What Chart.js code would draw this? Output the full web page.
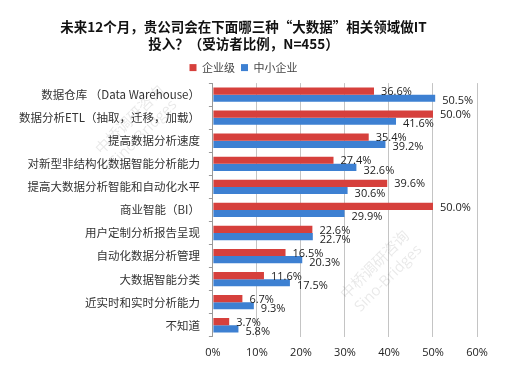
<!DOCTYPE html>
<html>
<head>
<meta charset="utf-8">
<script src="https://cdn.jsdelivr.net/npm/chart.js@4"></script>
<style>
  html, body { margin: 0; padding: 0; background: #fff; }
  #wrap { width: 529px; height: 376px; position: relative; }
</style>
</head>
<body>
<div id="wrap"><canvas id="chart"></canvas></div>
<script>
// категории и значения
const categories = [
    '数据仓库 （Data Warehouse）',
    '数据分析ETL（抽取，迁移，加载）',
    '提高数据分析速度',
    '对新型非结构化数据智能分析能力',
    '提高大数据分析智能和自动化水平',
    '商业智能（BI）',
    '用户定制分析报告呈现',
    '自动化数据分析管理',
    '大数据智能分类',
    '近实时和实时分析能力',
    '不知道'
];
const enterpriseValues = [36.6, 50.0, 35.4, 27.4, 39.6, 50.0, 22.6, 16.5, 11.6, 6.7, 3.7];
const smbValues = [50.5, 41.6, 39.2, 32.6, 30.6, 29.9, 22.7, 20.3, 17.5, 9.3, 5.8];
const seriesNames = ['企业级', '中小企业'];
const xTicks = [0, 10, 20, 30, 40, 50, 60];

const FONT = '"Noto Sans CJK SC", "Open Sans", sans-serif';

// подписи значений у концов столбцов
const valueLabels = {
    id: 'valueLabels',
    afterDatasetsDraw(chart) {
        const ctx = chart.ctx;
        ctx.save();
        ctx.font = '11px "Open Sans", sans-serif';
        ctx.fillStyle = '#222';
        ctx.textBaseline = 'middle';
        chart.data.datasets.forEach((ds, i) => {
            const meta = chart.getDatasetMeta(i);
            meta.data.forEach((bar, j) => {
                const dy = i === 0 ? 1 : 3;
                ctx.fillText(ds.data[j].toFixed(1) + '%', bar.x + 7, bar.y + dy);
            });
        });
        ctx.restore();
    }
};

// водяной знак
const watermark = {
    id: 'watermark',
    afterDraw(chart) {
        const ctx = chart.ctx;
        const spots = [[135, 125], [380, 270]];
        ctx.save();
        ctx.fillStyle = 'rgba(0,0,0,0.09)';
        ctx.textAlign = 'center';
        spots.forEach(([x, y]) => {
            ctx.save();
            ctx.translate(x, y);
            ctx.rotate(-Math.PI / 4);
            ctx.font = '15px ' + FONT;
            ctx.fillText('中桥调研咨询', 0, -8);
            ctx.font = '15px "Open Sans", sans-serif';
            ctx.fillText('Sino-Bridges', 0, 12);
            ctx.restore();
        });
        ctx.restore();
    }
};

const ctx = document.getElementById('chart').getContext('2d');
new Chart(ctx, {
    type: 'bar',
    data: {
        labels: categories,
        datasets: [{
            label: seriesNames[0],
            data: enterpriseValues,
            backgroundColor: '#D6403C',
            barPercentage: 1.0,
            categoryPercentage: 0.62
        }, {
            label: seriesNames[1],
            data: smbValues,
            backgroundColor: '#3D80D2',
            barPercentage: 1.0,
            categoryPercentage: 0.62
        }]
    },
    options: {
        indexAxis: 'y',
        responsive: true,
        maintainAspectRatio: false,
        animation: false,
        layout: { padding: { left: 10, right: 52, top: 8, bottom: 8 } },
        scales: {
            x: {
                min: 0,
                max: 60,
                afterBuildTicks: axis => { axis.ticks = xTicks.map(v => ({ value: v })); },
                ticks: {
                    callback: v => v + '%',
                    color: '#222',
                    font: { size: 11, family: '"Open Sans", sans-serif' },
                    padding: 9
                },
                grid: { color: '#C4C4C4', drawTicks: false },
                border: { display: false }
            },
            y: {
                ticks: {
                    color: '#333',
                    font: { size: 11.5, family: FONT },
                    padding: 9,
                    autoSkip: false
                },
                grid: { drawOnChartArea: false, drawTicks: true, tickLength: 4, color: '#999' },
                border: { color: '#999' }
            }
        },
        plugins: {
            title: {
                display: true,
                text: ['未来12个月，贵公司会在下面哪三种“大数据”相关领域做IT', '投入？（受访者比例，N=455）'],
                color: '#111',
                font: { size: 13.5, weight: 'bold', family: FONT, lineHeight: 1.3 },
                padding: { top: 10, bottom: 3 }
            },
            legend: {
                position: 'top',
                labels: {
                    boxWidth: 7,
                    boxHeight: 7,
                    color: '#444',
                    font: { size: 11, family: FONT },
                    padding: 6
                }
            },
            tooltip: { enabled: false }
        }
    },
    plugins: [valueLabels, watermark]
});
</script>
</body>
</html>
